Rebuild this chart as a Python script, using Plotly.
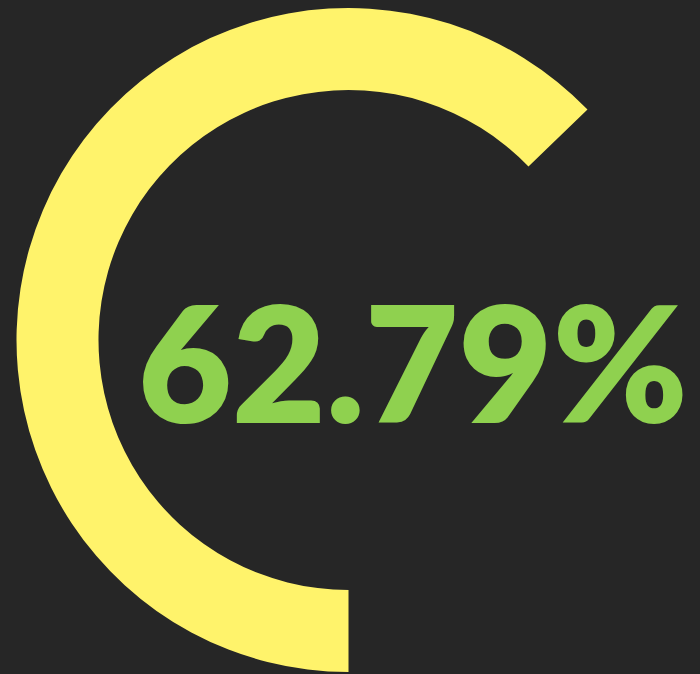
import plotly.graph_objects as go

labels = ["Progress", "Remaining"]
values = [62.79, 37.21]
value_text = "62.79%"

BG = "#262626"
YELLOW = "#fff36b"
GREEN = "#8fd14f"

W, H = 700, 674
cx, cy, R, r_in = 348.5, 340, 332, 250

fig = go.Figure(go.Pie(
    labels=labels,
    values=values,
    hole=r_in / R,
    sort=False,
    direction="clockwise",
    rotation=180,
    marker=dict(colors=[YELLOW, "rgba(0,0,0,0)"], line=dict(width=0)),
    textinfo="none",
    hoverinfo="skip",
    showlegend=False,
    domain=dict(x=[(cx - R) / W, (cx + R) / W],
                y=[(H - cy - R) / H, (H - cy + R) / H]),
))

fig.add_annotation(
    text=value_text,
    x=413 / W, y=(H - 360) / H, xref="paper", yref="paper",
    xanchor="center", yanchor="middle", showarrow=False,
    font=dict(family="Lato", size=162, color=GREEN, weight=800),
)

fig.update_layout(
    width=W, height=H,
    margin=dict(l=0, r=0, t=0, b=0),
    paper_bgcolor=BG, plot_bgcolor=BG,
)
fig.write_html(
    "out.html",
    config={"displayModeBar": False},
    post_script="document.body.style.margin='0';document.body.style.background='#262626';",
)
